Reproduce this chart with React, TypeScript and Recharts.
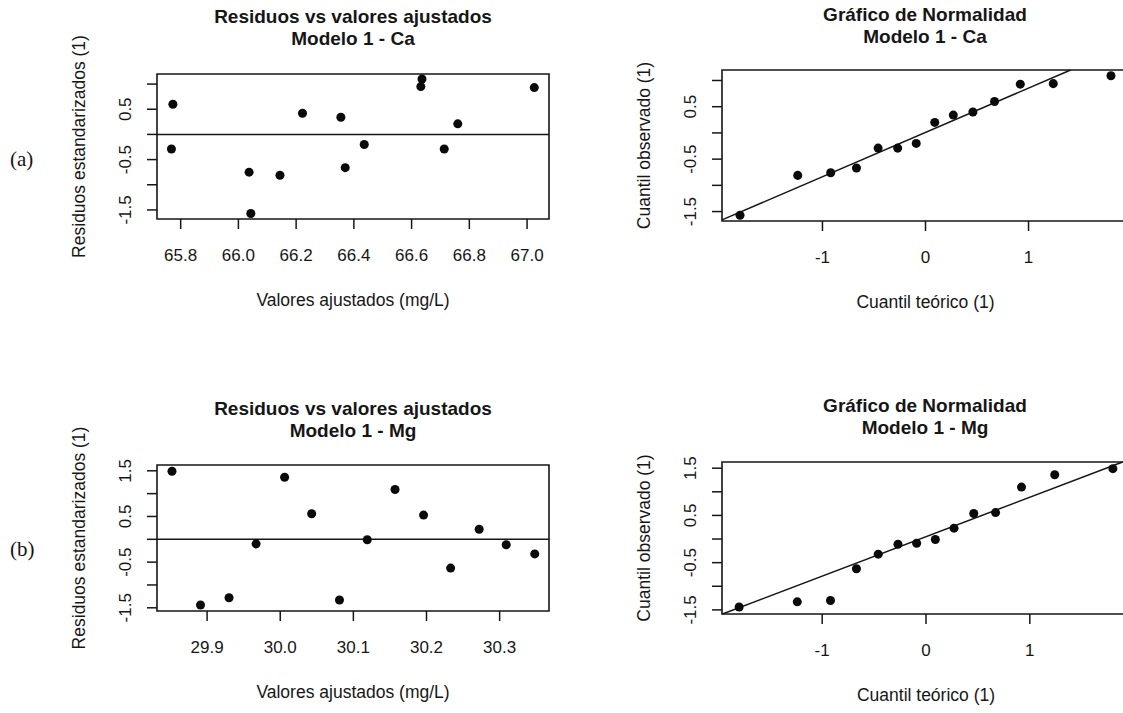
import React from 'react';
import { ScatterChart, Scatter, XAxis, YAxis, ReferenceLine, ReferenceArea, Label } from 'recharts';

// ---------- data ----------
const CA_FITTED = [65.773, 65.768, 66.037, 66.043, 66.144, 66.222, 66.355, 66.37, 66.436, 66.636, 66.632, 66.713, 66.76, 67.025];
const CA_RESID = [0.6, -0.29, -0.75, -1.57, -0.81, 0.42, 0.34, -0.66, -0.2, 1.1, 0.95, -0.29, 0.21, 0.93];

const MG_FITTED = [29.852, 29.891, 29.93, 29.967, 30.006, 30.043, 30.081, 30.119, 30.157, 30.196, 30.233, 30.272, 30.309, 30.348];
const MG_RESID = [1.49, -1.44, -1.28, -0.1, 1.36, 0.56, -1.33, -0.01, 1.09, 0.53, -0.63, 0.22, -0.12, -0.32];

const THEO_Q = [-1.8, -1.24, -0.92, -0.67, -0.46, -0.27, -0.09, 0.09, 0.27, 0.46, 0.67, 0.92, 1.24, 1.8];
const CA_OBS_Q = [-1.57, -0.81, -0.76, -0.67, -0.29, -0.29, -0.2, 0.2, 0.34, 0.4, 0.6, 0.93, 0.94, 1.09];
const MG_OBS_Q = [-1.44, -1.33, -1.3, -0.63, -0.32, -0.11, -0.09, -0.01, 0.23, 0.54, 0.56, 1.1, 1.36, 1.49];

const CA_X_TICKS = [65.8, 66.0, 66.2, 66.4, 66.6, 66.8, 67.0];
const MG_X_TICKS = [29.9, 30.0, 30.1, 30.2, 30.3];
const QQ_X_TICKS = [-1, 0, 1];
const CA_Y_TICKS = [-1.5, -1, -0.5, 0, 0.5, 1];
const MG_Y_TICKS = [-1.5, -1, -0.5, 0, 0.5, 1, 1.5];

const QQ_LINE_CA = { slope: 0.845, intercept: 0.01 };
const QQ_LINE_MG = { slope: 0.835, intercept: 0.05 };

const TITLE_RES = 'Residuos vs valores ajustados';
const TITLE_QQ = 'Gráfico de Normalidad';
const SUB_CA = 'Modelo 1 - Ca';
const SUB_MG = 'Modelo 1 - Mg';
const XLAB_RES = 'Valores ajustados (mg/L)';
const YLAB_RES = 'Residuos estandarizados (1)';
const XLAB_QQ = 'Cuantil teórico (1)';
const YLAB_QQ = 'Cuantil observado (1)';

// ---------- styling ----------
const INK = '#161616';
const SANS = '"Liberation Sans", Arial, sans-serif';
const TICK_FS = 17;
const LAB_FS = 17.5;
const TITLE_FS = 19;

const YW = 156;
const XH = 162;
const MT = 100;
const MB = 100;
const MR = 5;

type Box = { left: number; top: number; width: number; height: number };

const zip = (xs: number[], ys: number[]) => xs.map((x, i) => ({ x, y: ys[i] }));

const XTick = (props: any) => {
  const { x, y, payload, fmt } = props;
  return (
    <text x={x} y={y} dy="0.355em" textAnchor="middle" fill={INK} fontSize={TICK_FS} fontFamily={SANS}>
      {fmt(payload.value)}
    </text>
  );
};

const YTick = (props: any) => {
  const { x, y, payload } = props;
  const v = payload.value;
  const odd = Math.round(Math.abs(v) * 2) % 2 === 1;
  if (!odd) return <g />;
  return (
    <text
      x={x}
      y={y}
      dy="0.355em"
      textAnchor="middle"
      transform={`rotate(-90, ${x}, ${y})`}
      fill={INK}
      fontSize={TICK_FS}
      fontFamily={SANS}
    >
      {v.toFixed(1)}
    </text>
  );
};

function clipLine(m: number, b: number, xd: number[], yd: number[]) {
  let x0 = xd[0];
  let x1 = xd[1];
  if (m * x0 + b < yd[0]) x0 = (yd[0] - b) / m;
  if (m * x1 + b > yd[1]) x1 = (yd[1] - b) / m;
  return [
    { x: x0, y: m * x0 + b },
    { x: x1, y: m * x1 + b },
  ];
}

type PanelProps = {
  box: Box;
  xDomain: number[];
  yDomain: number[];
  xTicks: number[];
  yTicks: number[];
  xFmt: (v: number) => string;
  data: { x: number; y: number }[];
  zeroLine?: boolean;
  qqLine?: { slope: number; intercept: number };
  xLabel: string;
  yLabel: string;
};

const Panel = (p: PanelProps) => {
  const { box } = p;
  const w = YW + box.width + MR;
  const h = MT + box.height + XH + MB;
  return (
    <div style={{ position: 'absolute', left: box.left - YW, top: box.top - MT }}>
      <ScatterChart width={w} height={h} margin={{ top: MT, right: MR, bottom: MB, left: 0 }}>
        <XAxis
          type="number"
          dataKey="x"
          domain={p.xDomain}
          ticks={p.xTicks}
          allowDataOverflow
          interval={0}
          axisLine={false}
          tickLine={{ stroke: INK, strokeWidth: 1.5 }}
          tickSize={10}
          tickMargin={26}
          height={XH}
          tick={(tp: any) => <XTick {...tp} fmt={p.xFmt} />}
        >
          <Label value={p.xLabel} position="center" fill={INK} fontSize={LAB_FS} fontFamily={SANS} />
        </XAxis>
        <YAxis
          type="number"
          dataKey="y"
          domain={p.yDomain}
          ticks={p.yTicks}
          allowDataOverflow
          interval={0}
          axisLine={false}
          tickLine={{ stroke: INK, strokeWidth: 1.5 }}
          tickSize={10}
          tickMargin={22}
          width={YW}
          tick={(tp: any) => <YTick {...tp} />}
        >
          <Label value={p.yLabel} angle={-90} position="center" fill={INK} fontSize={LAB_FS} fontFamily={SANS} />
        </YAxis>
        <ReferenceArea
          x1={p.xDomain[0]}
          x2={p.xDomain[1]}
          y1={p.yDomain[0]}
          y2={p.yDomain[1]}
          fill="none"
          fillOpacity={0}
          stroke={INK}
          strokeWidth={1.6}
          ifOverflow="visible"
        />
        {p.zeroLine && <ReferenceLine y={0} stroke={INK} strokeWidth={1.5} />}
        {p.qqLine && (
          <ReferenceLine
            segment={clipLine(p.qqLine.slope, p.qqLine.intercept, p.xDomain, p.yDomain)}
            stroke={INK}
            strokeWidth={1.5}
            ifOverflow="visible"
          />
        )}
        <Scatter data={p.data} fill="#0a0a0a" isAnimationActive={false} />
      </ScatterChart>
    </div>
  );
};

const Title = ({ cx, top, lines }: { cx: number; top: number; lines: string[] }) => (
  <div
    style={{
      position: 'absolute',
      left: cx - 200,
      top,
      width: 400,
      textAlign: 'center',
      fontFamily: SANS,
      fontWeight: 'bold',
      fontSize: TITLE_FS,
      lineHeight: '22px',
      color: INK,
      whiteSpace: 'nowrap',
    }}
  >
    {lines.map((l) => (
      <div key={l}>{l}</div>
    ))}
  </div>
);

const Tag = ({ top, text }: { top: number; text: string }) => (
  <div
    style={{
      position: 'absolute',
      left: 10,
      top,
      fontFamily: '"Liberation Serif", "Times New Roman", serif',
      fontSize: 21,
      color: INK,
      lineHeight: '22px',
    }}
  >
    {text}
  </div>
);

const fmt1 = (v: number) => v.toFixed(1);
const fmt0 = (v: number) => String(v);

export default function App() {
  return (
    <div
      style={{
        position: 'absolute',
        left: 0,
        top: 0,
        width: 1123,
        height: 713,
        overflow: 'hidden',
        background: '#fff',
      }}
    >
      <Panel
        box={{ left: 157, top: 74, width: 392, height: 145 }}
        xDomain={[65.718, 67.076]}
        yDomain={[-1.68, 1.2]}
        xTicks={CA_X_TICKS}
        yTicks={CA_Y_TICKS}
        xFmt={fmt1}
        data={zip(CA_FITTED, CA_RESID)}
        zeroLine
        xLabel={XLAB_RES}
        yLabel={YLAB_RES}
      />
      <Panel
        box={{ left: 722, top: 70, width: 407, height: 151 }}
        xDomain={[-1.975, 1.975]}
        yDomain={[-1.68, 1.2]}
        xTicks={QQ_X_TICKS}
        yTicks={CA_Y_TICKS}
        xFmt={fmt0}
        data={zip(THEO_Q, CA_OBS_Q)}
        qqLine={QQ_LINE_CA}
        xLabel={XLAB_QQ}
        yLabel={YLAB_QQ}
      />
      <Panel
        box={{ left: 157, top: 465, width: 392, height: 146 }}
        xDomain={[29.8315, 30.3675]}
        yDomain={[-1.57, 1.627]}
        xTicks={MG_X_TICKS}
        yTicks={MG_Y_TICKS}
        xFmt={fmt1}
        data={zip(MG_FITTED, MG_RESID)}
        zeroLine
        xLabel={XLAB_RES}
        yLabel={YLAB_RES}
      />
      <Panel
        box={{ left: 721.5, top: 462, width: 408, height: 152 }}
        xDomain={[-1.965, 1.965]}
        yDomain={[-1.587, 1.631]}
        xTicks={QQ_X_TICKS}
        yTicks={MG_Y_TICKS}
        xFmt={fmt0}
        data={zip(THEO_Q, MG_OBS_Q)}
        qqLine={QQ_LINE_MG}
        xLabel={XLAB_QQ}
        yLabel={YLAB_QQ}
      />

      <Title cx={353} top={6} lines={[TITLE_RES, SUB_CA]} />
      <Title cx={925} top={4} lines={[TITLE_QQ, SUB_CA]} />
      <Title cx={353} top={398} lines={[TITLE_RES, SUB_MG]} />
      <Title cx={925} top={395} lines={[TITLE_QQ, SUB_MG]} />
      <Tag top={148} text="(a)" />
      <Tag top={538} text="(b)" />
    </div>
  );
}
